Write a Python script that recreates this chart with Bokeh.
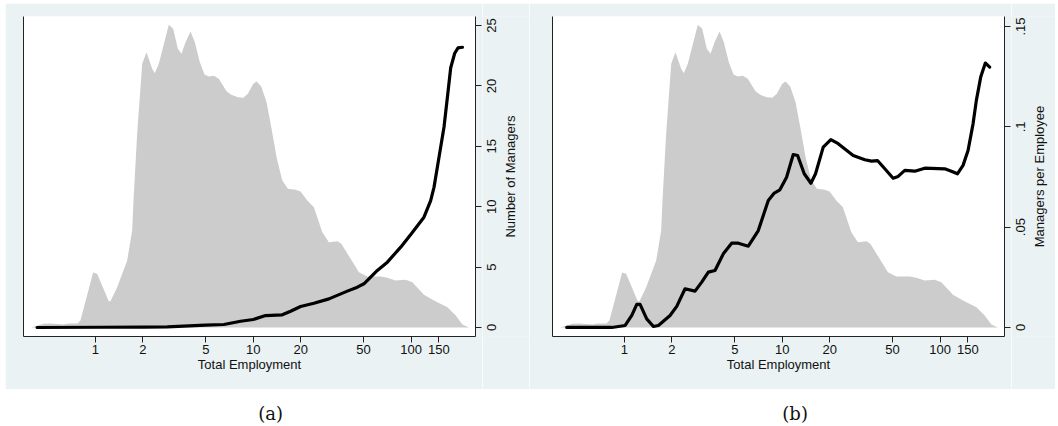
from bokeh.plotting import figure
from bokeh.models import Range1d, LinearAxis, FixedTicker, Spacer
from bokeh.layouts import column, row
from bokeh.embed import file_html
from bokeh.resources import INLINE
from bokeh.core.properties import value

# ---- data ----
# kernel density of total employment (arbitrary scaled units)
dens_emp = [0.391, 0.468, 0.518, 0.627, 0.674, 0.769, 0.803, 0.967, 1.025, 1.214, 1.245, 1.373,
            1.589, 1.709, 1.742, 1.838, 1.978, 2.105, 2.288, 2.377, 2.520, 2.916, 3.110, 3.326,
            3.511, 3.722, 4.004, 4.264, 4.585, 4.912, 5.230, 5.626, 6.051, 6.771, 7.254, 7.987,
            8.644, 9.243, 10.0, 10.49, 11.24, 12.14, 13.01, 14.05, 15.27, 16.58, 18.54, 19.95,
            22.00, 24.23, 27.39, 30.16, 34.10, 36.14, 41.40, 46.73, 52.84, 64.15, 70.74, 79.88,
            92.43, 101.9, 120.7, 139.7, 169.9, 191.8, 211.5, 232.9]
dens_val = [0, 0.0037, 0.004, 0.003, 0.004, 0.004, 0.007, 0.055, 0.0537, 0.0263, 0.0263, 0.0403,
            0.067, 0.097, 0.127, 0.194, 0.2637, 0.2753, 0.2587, 0.2543, 0.2637, 0.3027, 0.2987,
            0.2787, 0.2737, 0.2853, 0.296, 0.2853, 0.2653, 0.253, 0.251, 0.2517, 0.2487, 0.2363,
            0.2327, 0.2303, 0.2297, 0.2337, 0.2437, 0.246, 0.241, 0.2253, 0.2003, 0.1703, 0.147,
            0.1387, 0.1377, 0.136, 0.127, 0.1203, 0.0953, 0.0853, 0.0863, 0.0837, 0.0687, 0.0553,
            0.051, 0.051, 0.0497, 0.047, 0.0477, 0.0453, 0.0327, 0.027, 0.0203, 0.012, 0.003, 0]

# (a) number of managers by total employment
mgr_emp = [0.427, 1.076, 2.0, 2.85, 4.98, 6.51, 8.31, 10.0, 11.97, 15.27, 17.24, 19.95, 24.23,
           30.16, 39.46, 45.65, 50.27, 61.14, 70.74, 85.94, 100.4, 120.7, 133.1, 139.7, 150.3,
           161.7, 169.9, 178.3, 189.0, 198.4, 211.5]
mgr_num = [0.0, 0.02, 0.03, 0.05, 0.19, 0.25, 0.52, 0.66, 0.99, 1.05, 1.35, 1.74, 2.01, 2.37,
           3.01, 3.34, 3.62, 4.72, 5.41, 6.65, 7.76, 9.13, 10.5, 11.6, 14.1, 16.6, 19.06, 21.5,
           22.7, 23.15, 23.2]

# (b) managers per employee by total employment
mpe_emp = [0.431, 0.831, 1.01, 1.113, 1.197, 1.256, 1.384, 1.526, 1.641, 1.945, 2.144, 2.421,
           2.801, 3.087, 3.402, 3.748, 4.232, 4.778, 5.267, 6.093, 7.049, 8.155, 8.9, 9.66,
           10.65, 11.74, 12.51, 13.78, 15.19, 16.25, 18.18, 20.32, 22.62, 28.14, 33.37, 36.76,
           40.12, 44.65, 50.41, 54.24, 59.76, 69.14, 79.98, 107.0, 117.9, 128.8, 139.8, 150.4,
           161.8, 169.8, 180.9, 193.6, 206.2]
mpe_val = [0, 0, 0.001, 0.006, 0.0115, 0.0115, 0.0043, 0.0005, 0.001, 0.006, 0.0105, 0.0193,
           0.0181, 0.0226, 0.0276, 0.0284, 0.0367, 0.042, 0.042, 0.0405, 0.0483, 0.0633, 0.067,
           0.0686, 0.0749, 0.0862, 0.0857, 0.0766, 0.0719, 0.0766, 0.0899, 0.0936, 0.0916,
           0.0857, 0.0836, 0.0829, 0.0832, 0.0791, 0.0744, 0.0753, 0.0783, 0.0779, 0.0794,
           0.0791, 0.0779, 0.0766, 0.0808, 0.0882, 0.1015, 0.1132, 0.1248, 0.1318, 0.1298]

x_ticks = [1, 2, 5, 10, 20, 50, 100, 150]
x_title = "Total Employment"
a_ticks = [0, 5, 10, 15, 20, 25]
a_labels = ["0", "5", "10", "15", "20", "25"]
a_title = "Number of Managers"
b_ticks = [0, 0.05, 0.1, 0.15]
b_labels = ["0", ".05", ".1", ".15"]
b_title = "Managers per Employee"
captions = ["(a)", "(b)"]

BG = "#EAF2F3"
FONT = "Liberation Sans"
AXC = "#222222"
TXC = "#111111"
PANEL_H = 386
TOP = 13
BOTTOM = 53


def main_fig(lx, ly, yr, yticks, width, left):
    p = figure(width=width, height=PANEL_H, x_axis_type="log",
               x_range=Range1d(0.35, 256), y_range=Range1d(*yr),
               y_axis_location="right", output_backend="svg", toolbar_location=None,
               min_border_left=left, min_border_right=7, min_border_top=TOP,
               min_border_bottom=BOTTOM, border_fill_color=BG, background_fill_color="white",
               outline_line_color=None)
    p.extra_y_ranges = {"dens": Range1d(-0.009, 0.311)}
    p.xgrid.visible = False
    p.ygrid.visible = False

    p.varea(x=dens_emp, y1=0, y2=dens_val, y_range_name="dens",
            fill_color="#CCCCCC", fill_alpha=1.0)
    p.line(lx, ly, line_color="black", line_width=3.2, line_join="round", line_cap="round")

    xa = p.below[0]
    ya = p.right[0]

    # left axis: plain line (density axis with no ticks / labels)
    la = LinearAxis(y_range_name="dens", ticker=FixedTicker(ticks=[]),
                    major_tick_out=0, major_tick_in=0, minor_tick_out=0, minor_tick_in=0,
                    major_label_standoff=0, axis_line_color=AXC, axis_line_width=1)
    p.add_layout(la, "left")

    # right axis: line + tick marks (labels drawn rotated in the side strip)
    ya.ticker = FixedTicker(ticks=[], minor_ticks=yticks)
    ya.major_tick_out = 6
    ya.major_tick_in = 0
    ya.major_label_standoff = 0
    ya.minor_tick_out = 6
    ya.minor_tick_in = 0
    ya.minor_tick_line_color = AXC
    ya.minor_tick_line_width = 1
    ya.axis_line_color = AXC
    ya.axis_line_width = 1

    xa.ticker = FixedTicker(ticks=x_ticks)
    xa.major_label_overrides = {t: str(t) for t in x_ticks}
    xa.axis_label = x_title
    xa.axis_line_color = AXC
    xa.axis_line_width = 1
    xa.major_tick_line_color = AXC
    xa.major_tick_out = 6
    xa.major_tick_in = 0
    xa.minor_tick_line_color = None
    xa.major_label_text_font = FONT
    xa.major_label_text_font_size = "13px"
    xa.major_label_text_color = TXC
    xa.major_label_standoff = 2
    xa.axis_label_text_font = FONT
    xa.axis_label_text_font_size = "13px"
    xa.axis_label_text_font_style = "normal"
    xa.axis_label_text_color = TXC
    xa.axis_label_standoff = 0
    return p


def side_fig(main, yticks, ylabels, ytitle, width):
    s = figure(width=width, height=PANEL_H, x_range=Range1d(0, width), y_range=main.y_range,
               output_backend="svg", toolbar_location=None, min_border_left=0,
               min_border_right=0, min_border_top=TOP, min_border_bottom=BOTTOM,
               border_fill_color=BG, background_fill_color=BG, outline_line_color=None)
    s.axis.visible = False
    s.grid.visible = False
    s.text(x=[9] * len(yticks), y=yticks, text=ylabels, angle=90, angle_units="deg",
           text_font=value(FONT), text_font_size="13px", text_align="center",
           text_baseline="middle", text_color=TXC)
    yr = main.y_range
    s.text(x=[28], y=[(yr.start + yr.end) / 2], text=[ytitle], angle=90, angle_units="deg",
           text_font=value(FONT), text_font_size="13px", text_align="center",
           text_baseline="middle", text_color=TXC)
    return s


def caption(txt, width, xpos):
    c = figure(width=width, height=36, x_range=Range1d(0, 1), y_range=Range1d(0, 1),
               output_backend="svg", toolbar_location=None, min_border=0,
               outline_line_color=None, border_fill_color="white",
               background_fill_color="white")
    c.axis.visible = False
    c.grid.visible = False
    c.text(x=[xpos], y=[0.33], text=[txt], text_font=value("DejaVu Serif"),
           text_font_size="18px", text_align="center", text_baseline="middle",
           text_color=TXC)
    return c


ma = main_fig(mgr_emp, mgr_num, (-0.745, 25.745), a_ticks, 477, 18)
sa = side_fig(ma, a_ticks, a_labels, a_title, 47)
mb = main_fig(mpe_emp, mpe_val, (-0.0045, 0.155), b_ticks, 482, 23)
sb = side_fig(mb, b_ticks, b_labels, b_title, 44)
ca = caption(captions[0], 524, 0.506)
cb = caption(captions[1], 526, 0.505)

layout = column(Spacer(width=10, height=3),
                row(Spacer(width=5, height=10), ma, sa, mb, sb),
                row(Spacer(width=5, height=10), ca, cb))

open("out.html", "w").write(file_html(layout, INLINE))
